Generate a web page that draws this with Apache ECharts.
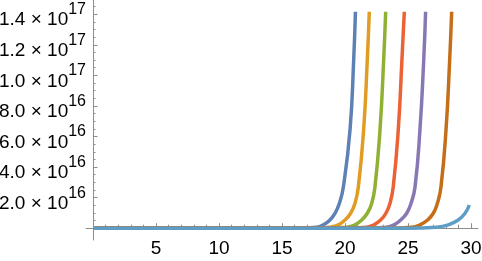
<!DOCTYPE html>
<html>
<head>
<meta charset="utf-8">
<script src="https://cdn.jsdelivr.net/npm/echarts@6/dist/echarts.min.js"></script>
<style>html,body{margin:0;padding:0;background:#fff}#c{width:482px;height:261px}</style>
</head>
<body>
<div id="c"></div>
<script>
// values (y in units of 1e16)
const blueX   = [0, 16.0, 17.75, 18.28, 18.81, 19.21, 19.55, 19.87, 20.40, 20.69, 20.83];
const orangeX = [0, 17.1, 18.81, 19.47, 20.00, 20.45, 20.79, 21.06, 21.48, 21.77, 21.93];
const greenX  = [0, 18.2, 20.13, 20.79, 21.33, 21.77, 22.12, 22.38, 22.78, 23.07, 23.23];
const redX    = [0, 19.8, 21.72, 22.30, 22.83, 23.25, 23.57, 23.83, 24.23, 24.52, 24.71];
const purpleX = [0, 21.4, 23.31, 23.89, 24.42, 24.90, 25.24, 25.56, 25.95, 26.25, 26.40];
const brownX  = [0, 23.4, 25.29, 25.95, 26.56, 27.01, 27.33, 27.62, 28.02, 28.31, 28.47];
const levelsY = [0, 0.01, 0.07, 0.22, 0.54, 0.98, 1.62, 2.70, 6.43, 10.99, 14.16];
const cyanX   = [0, 25.0, 27.28, 28.20, 28.99, 29.52, 29.87];
const cyanY   = [0, 0.005, 0.07, 0.22, 0.54, 0.96, 1.52];

const xTickLabels = [5, 10, 15, 20, 25, 30];
const xMajorTicks = [0, 5, 10, 15, 20, 25, 30];
const xMinorTicks = Array.from({length: 31}, (_, i) => i);
const yTickLabels = [2e16, 4e16, 6e16, 8e16, 10e16, 12e16, 14e16];
const yMajorTicks = [0, 2e16, 4e16, 6e16, 8e16, 10e16, 12e16, 14e16];
const yMinorTicks = Array.from({length: 30}, (_, i) => i * 0.5e16);

const colors = ['#5E81B5', '#E19C24', '#8FB032', '#EB6235', '#8778B3', '#C56E1A', '#5D9EC7'];
const SCALE = 1e16;

function pairs(xs, ys) { return xs.map((x, i) => [x, ys[i] * SCALE]); }
const seriesData = [
  pairs(blueX, levelsY), pairs(orangeX, levelsY), pairs(greenX, levelsY),
  pairs(redX, levelsY), pairs(purpleX, levelsY), pairs(brownX, levelsY),
  pairs(cyanX, cyanY)
];

const axisColor = '#8e8e8e';
const font = "'Liberation Sans', Arial, sans-serif";
const X_MIN = -0.56, X_MAX = 30.56, Y_MIN = -0.77e16, Y_MAX = 14.93e16;

function yFmt(v) {
  const e = Math.floor(Math.log10(v) + 1e-9);
  const m = (v / Math.pow(10, e)).toFixed(1);
  return '{m|' + m + ' \u00d7 10}{e|' + e + '}';
}

const chart = echarts.init(document.getElementById('c'), null, {renderer: 'canvas'});
chart.setOption({
  animation: false,
  backgroundColor: '#fff',
  grid: {left: 86, right: 4, top: 0, bottom: 21, containLabel: false, outerBoundsMode: 'none'},
  xAxis: [{
    type: 'value', min: X_MIN, max: X_MAX, position: 'bottom', z: 1,
    axisLine: {onZero: true, lineStyle: {color: axisColor, width: 1}},
    axisTick: {inside: true, length: 5, customValues: xMajorTicks, lineStyle: {color: axisColor}},
    axisLabel: {customValues: xTickLabels, margin: -1, color: '#000', fontSize: 19, fontFamily: font},
    splitLine: {show: false}
  }, {
    type: 'value', min: X_MIN, max: X_MAX, position: 'bottom', z: 1,
    axisLine: {show: false, onZero: true},
    axisTick: {inside: true, length: 3.5, customValues: xMinorTicks, lineStyle: {color: axisColor}},
    axisLabel: {show: false},
    splitLine: {show: false}
  }],
  yAxis: [{
    type: 'value', min: Y_MIN, max: Y_MAX, position: 'left', z: 1,
    axisLine: {onZero: true, lineStyle: {color: axisColor, width: 1}},
    axisTick: {inside: true, length: 4.5, customValues: yMajorTicks, lineStyle: {color: axisColor}},
    axisLabel: {
      customValues: yTickLabels, margin: 0, formatter: yFmt, padding: [12, 0, 0, 0],
      rich: {
        m: {fontSize: 19, fontFamily: font, color: '#000', lineHeight: 19, verticalAlign: 'bottom'},
        e: {fontSize: 16, fontFamily: font, color: '#000', lineHeight: 16, verticalAlign: 'bottom', padding: [0, 0, 12, 0]}
      }
    },
    splitLine: {show: false}
  }, {
    type: 'value', min: Y_MIN, max: Y_MAX, position: 'left', z: 1,
    axisLine: {show: false, onZero: true},
    axisTick: {inside: true, length: 2.5, customValues: yMinorTicks, lineStyle: {color: axisColor}},
    axisLabel: {show: false},
    splitLine: {show: false}
  }],
  series: seriesData.map((d, i) => ({
    type: 'line', data: d, xAxisIndex: 0, yAxisIndex: 0,
    showSymbol: false, symbol: 'none', smooth: 0.5,
    lineStyle: {color: colors[i], width: 3.5}, itemStyle: {color: colors[i]},
    clip: true, z: 2 + i
  }))
});
</script>
</body>
</html>
